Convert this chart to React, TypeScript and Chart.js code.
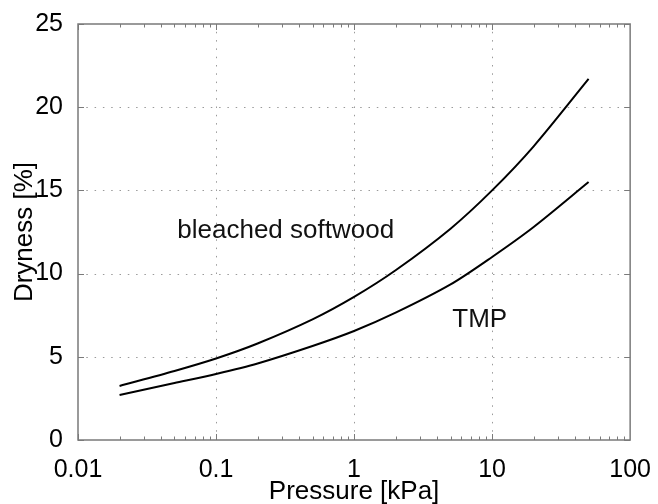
import { useEffect, useRef } from "react";
import { Chart, registerables } from "chart.js";

Chart.register(...registerables);

// Pressure [kPa]
const pressure = [0.02, 0.05, 0.1, 0.2, 0.5, 1, 2, 5, 10, 20, 50];
// Dryness [%]
const bleachedSoftwood = [3.25, 4.15, 4.9, 5.8, 7.25, 8.6, 10.2, 12.7, 15.0, 17.65, 21.7];
const tmp = [2.7, 3.42, 3.97, 4.6, 5.65, 6.55, 7.65, 9.35, 11.0, 12.8, 15.5];

const xTickValues = [0.01, 0.1, 1, 10, 100];
const xTickLabels = ["0.01", "0.1", "1", "10", "100"];
const yTickValues = [0, 5, 10, 15, 20, 25];

const labelTexts = ["bleached softwood", "TMP"];
const labelX = [0.0524, 5.15];
const labelY = [12.6, 7.2];

const FONT = '"Liberation Sans", Arial, Helvetica, sans-serif';

const framePlugin = {
  id: "matlabFrame",
  beforeDatasetsDraw(chart: any) {
    const { ctx, chartArea, scales } = chart;
    const { left, right, top, bottom } = chartArea;
    const xs = scales.x;
    const ys = scales.y;
    ctx.save();
    // dotted grid
    ctx.strokeStyle = "#9a9a9a";
    ctx.lineWidth = 1;
    ctx.setLineDash([1.5, 6.8]);
    xTickValues.slice(1, -1).forEach((v) => {
      const px = Math.round(xs.getPixelForValue(v)) + 0.5;
      ctx.beginPath();
      ctx.moveTo(px, bottom);
      ctx.lineTo(px, top);
      ctx.stroke();
    });
    yTickValues.slice(1, -1).forEach((v) => {
      const py = Math.round(ys.getPixelForValue(v)) + 0.5;
      ctx.beginPath();
      ctx.moveTo(left, py);
      ctx.lineTo(right, py);
      ctx.stroke();
    });
    ctx.setLineDash([]);
    // inward ticks
    ctx.strokeStyle = "#7a7a7a";
    ctx.lineWidth = 1;
    for (let k = -2; k < 2; k++) {
      for (let m = 1; m <= 9; m++) {
        const v = m * Math.pow(10, k);
        const px = Math.round(xs.getPixelForValue(v)) + 0.5;
        const len = m === 1 ? 6 : 3.5;
        ctx.beginPath();
        ctx.moveTo(px, bottom);
        ctx.lineTo(px, bottom - len);
        ctx.moveTo(px, top);
        ctx.lineTo(px, top + len);
        ctx.stroke();
      }
    }
    yTickValues.forEach((v) => {
      const py = Math.round(ys.getPixelForValue(v)) + 0.5;
      ctx.beginPath();
      ctx.moveTo(left, py);
      ctx.lineTo(left + 6, py);
      ctx.moveTo(right, py);
      ctx.lineTo(right - 6, py);
      ctx.stroke();
    });
    // frame
    ctx.lineWidth = 1.5;
    ctx.strokeRect(left, top, right - left, bottom - top);
    ctx.restore();
  },
  afterDatasetsDraw(chart: any) {
    const { ctx, scales } = chart;
    ctx.save();
    ctx.fillStyle = "#111";
    ctx.font = `26px ${FONT}`;
    ctx.textAlign = "left";
    ctx.textBaseline = "middle";
    labelTexts.forEach((t, i) => {
      ctx.fillText(t, scales.x.getPixelForValue(labelX[i]), scales.y.getPixelForValue(labelY[i]));
    });
    ctx.restore();
  },
};

export default function App() {
  const ref = useRef<HTMLCanvasElement | null>(null);
  useEffect(() => {
    document.body.style.margin = "0";
    const canvas = ref.current;
    if (!canvas) return;
    const chart = new Chart(canvas, {
      type: "line",
      data: {
        datasets: [
          {
            label: "bleached softwood",
            data: pressure.map((p, i) => ({ x: p, y: bleachedSoftwood[i] })),
            borderColor: "#000",
            borderWidth: 2,
            pointRadius: 0,
            tension: 0.3,
            fill: false,
          },
          {
            label: "TMP",
            data: pressure.map((p, i) => ({ x: p, y: tmp[i] })),
            borderColor: "#000",
            borderWidth: 2,
            pointRadius: 0,
            tension: 0.3,
            fill: false,
          },
        ],
      },
      options: {
        animation: false,
        responsive: false,
        maintainAspectRatio: false,
        layout: { padding: { top: 24, right: 24, left: 0, bottom: 0 } },
        plugins: { legend: { display: false }, tooltip: { enabled: false } },
        scales: {
          x: {
            type: "logarithmic",
            min: 0.01,
            max: 100,
            grid: { display: false },
            border: { display: false },
            ticks: {
              autoSkip: false,
              maxRotation: 0,
              minRotation: 0,
              padding: 7,
              color: "#000",
              font: { family: FONT, size: 25 },
              callback: (v: any) => {
                const l = Math.log10(Number(v));
                const r = Math.round(l);
                if (Math.abs(l - r) < 1e-6) {
                  const idx = xTickValues.findIndex((t) => Math.abs(Math.log10(t) - r) < 1e-6);
                  return idx >= 0 ? xTickLabels[idx] : "";
                }
                return "";
              },
            },
            title: {
              display: true,
              text: "Pressure [kPa]",
              color: "#000",
              font: { family: FONT, size: 26, lineHeight: 1 },
              padding: { top: 0, bottom: -1 },
            },
            afterFit: (s: any) => {
              s.height = 64;
            },
          },
          y: {
            type: "linear",
            min: 0,
            max: 25,
            grid: { display: false },
            border: { display: false },
            ticks: {
              stepSize: 5,
              padding: 7,
              color: "#000",
              font: { family: FONT, size: 25 },
            },
            title: {
              display: true,
              text: "Dryness [%]",
              color: "#000",
              font: { family: FONT, size: 26, lineHeight: 1 },
              padding: { top: 12, bottom: 0 },
            },
            afterFit: (s: any) => {
              s.width = 78;
            },
          },
        },
      },
      plugins: [framePlugin],
    } as any);
    return () => chart.destroy();
  }, []);
  return <canvas ref={ref} width={658} height={504} style={{ display: "block" }} />;
}
